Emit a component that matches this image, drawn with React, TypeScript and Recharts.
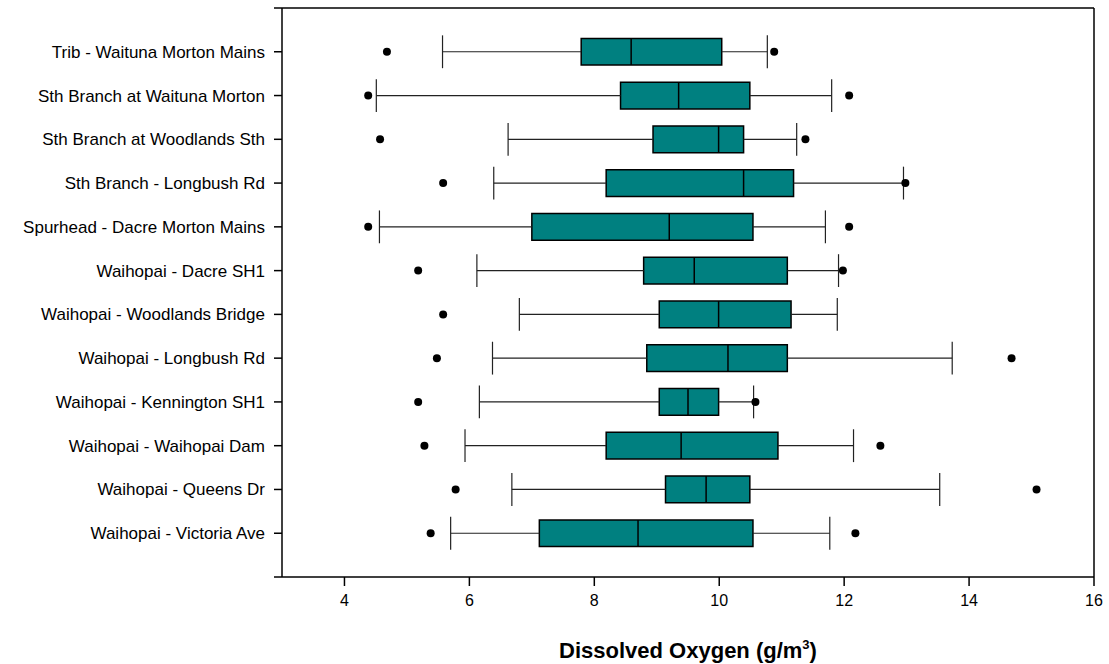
import React from 'react';
import { ComposedChart, XAxis, YAxis, Scatter, ReferenceArea, ReferenceLine, Label } from 'recharts';

const categories = [
  'Trib - Waituna Morton Mains',
  'Sth Branch at Waituna Morton',
  'Sth Branch at Woodlands Sth',
  'Sth Branch - Longbush Rd',
  'Spurhead - Dacre Morton Mains',
  'Waihopai - Dacre SH1',
  'Waihopai - Woodlands Bridge',
  'Waihopai - Longbush Rd',
  'Waihopai - Kennington SH1',
  'Waihopai - Waihopai Dam',
  'Waihopai - Queens Dr',
  'Waihopai - Victoria Ave',
];
const whiskerLow = [5.57, 4.51, 6.62, 6.39, 4.56, 6.12, 6.8, 6.37, 6.16, 5.93, 6.68, 5.7];
const q1 = [7.79, 8.42, 8.94, 8.19, 7.0, 8.79, 9.04, 8.84, 9.04, 8.19, 9.14, 7.12];
const median = [8.59, 9.35, 9.99, 10.39, 9.2, 9.6, 9.99, 10.14, 9.5, 9.39, 9.79, 8.7];
const q3 = [10.04, 10.49, 10.39, 11.19, 10.54, 11.09, 11.15, 11.09, 9.99, 10.94, 10.49, 10.54];
const whiskerHigh = [10.77, 11.8, 11.24, 12.95, 11.7, 11.91, 11.89, 13.73, 10.55, 12.15, 13.53, 11.77];
const lowOutlier = [4.68, 4.38, 4.57, 5.58, 4.38, 5.18, 5.58, 5.48, 5.18, 5.28, 5.78, 5.38];
const highOutlier: (number | null)[] = [10.88, 12.08, 11.38, 12.98, 12.08, 11.98, null, 14.68, 10.58, 12.58, 15.08, 12.18];
const xTicks = [4, 6, 8, 10, 12, 14, 16];

const FONT = '"Liberation Sans", Arial, sans-serif';
const BOX_HALF = 0.305;
const CAP_HALF = 0.375;

const outliers: { x: number; y: number }[] = [];
categories.forEach((_, i) => {
  outliers.push({ x: lowOutlier[i], y: i + 1 });
  const h = highOutlier[i];
  if (h !== null) outliers.push({ x: h, y: i + 1 });
});

const yTicks = Array.from({ length: categories.length + 2 }, (_, i) => i);

const Dot = (props: any) => <circle cx={props.cx} cy={props.cy} r={4} fill="#000" />;

const TitleLabel = (props: any) => {
  const vb = props.viewBox || {};
  const cx = (vb.x || 0) + (vb.width || 0) / 2;
  return (
    <text x={cx} y={658} textAnchor="middle" fontFamily={FONT} fontWeight="bold" fontSize={22} fill="#000">
      Dissolved Oxygen (g/m
      <tspan dy={-9} fontSize={13}>3</tspan>
      <tspan dy={9}>)</tspan>
    </text>
  );
};

export default function App() {
  return (
    <div style={{ position: 'absolute', left: 0, top: 0, background: '#fff' }}>
      <ComposedChart width={1109} height={664} margin={{ top: 8, right: 15, bottom: 30, left: 0 }}>
        <XAxis
          type="number"
          dataKey="x"
          domain={[3, 16]}
          ticks={xTicks}
          allowDataOverflow
          height={57}
          tickSize={9}
          tickMargin={9}
          stroke="#000"
          axisLine={{ stroke: '#000', strokeWidth: 1.5 }}
          tickLine={{ stroke: '#000', strokeWidth: 1.5 }}
          tick={{ fill: '#000', fontFamily: FONT, fontSize: 16 }}
        >
          <Label content={<TitleLabel />} />
        </XAxis>
        <YAxis
          type="number"
          dataKey="y"
          domain={[0, categories.length + 1]}
          ticks={yTicks}
          reversed
          allowDataOverflow
          interval={0}
          width={282}
          tickSize={8}
          tickMargin={9}
          stroke="#000"
          axisLine={{ stroke: '#000', strokeWidth: 1.5 }}
          tickLine={{ stroke: '#000', strokeWidth: 1.5 }}
          tick={{ fill: '#000', fontFamily: FONT, fontSize: 17 }}
          tickFormatter={(v: number) => (v >= 1 && v <= categories.length ? categories[v - 1] : '')}
        />
        <ReferenceLine y={0} stroke="#000" strokeWidth={1.5} />
        <ReferenceLine x={16} stroke="#000" strokeWidth={1.5} />
        {categories.map((c, i) => (
          <ReferenceLine
            key={'wl' + i}
            segment={[{ x: whiskerLow[i], y: i + 1 }, { x: q1[i], y: i + 1 }]}
            stroke="#222"
            strokeWidth={1.2}
          />
        ))}
        {categories.map((c, i) => (
          <ReferenceLine
            key={'wh' + i}
            segment={[{ x: q3[i], y: i + 1 }, { x: whiskerHigh[i], y: i + 1 }]}
            stroke="#222"
            strokeWidth={1.2}
          />
        ))}
        {categories.map((c, i) => (
          <ReferenceLine
            key={'cl' + i}
            segment={[{ x: whiskerLow[i], y: i + 1 - CAP_HALF }, { x: whiskerLow[i], y: i + 1 + CAP_HALF }]}
            stroke="#222"
            strokeWidth={1.2}
          />
        ))}
        {categories.map((c, i) => (
          <ReferenceLine
            key={'ch' + i}
            segment={[{ x: whiskerHigh[i], y: i + 1 - CAP_HALF }, { x: whiskerHigh[i], y: i + 1 + CAP_HALF }]}
            stroke="#222"
            strokeWidth={1.2}
          />
        ))}
        {categories.map((c, i) => (
          <ReferenceArea
            key={'box' + i}
            x1={q1[i]}
            x2={q3[i]}
            y1={i + 1 - BOX_HALF}
            y2={i + 1 + BOX_HALF}
            fill="#008080"
            fillOpacity={1}
            stroke="#000"
            strokeWidth={1.5}
          />
        ))}
        {categories.map((c, i) => (
          <ReferenceLine
            key={'md' + i}
            segment={[{ x: median[i], y: i + 1 - BOX_HALF }, { x: median[i], y: i + 1 + BOX_HALF }]}
            stroke="#000"
            strokeWidth={1.5}
          />
        ))}
        <Scatter data={outliers} dataKey="y" shape={<Dot />} isAnimationActive={false} />
      </ComposedChart>
    </div>
  );
}
